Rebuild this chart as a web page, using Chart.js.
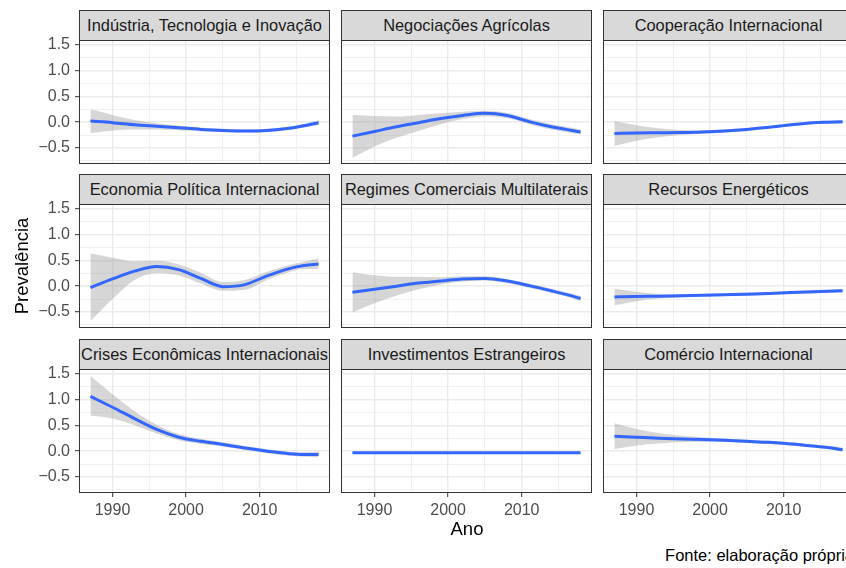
<!DOCTYPE html>
<html lang="pt">
<head>
<meta charset="UTF-8">
<title>Prevalência dos temas por ano</title>
<script src="https://cdn.jsdelivr.net/npm/chart.js@4.4.0/dist/chart.umd.min.js"></script>
<style>
  body { margin: 0; width: 846px; height: 568px; overflow: hidden; background: #fff; position: relative;
         font-family: "Liberation Sans", Arial, sans-serif; }
  .strip { position: absolute; box-sizing: border-box; background: #d9d9d9; border: 1px solid #333;
           color: #1a1a1a; font-size: 16.4px; text-align: center; white-space: nowrap; overflow: hidden; }
  .frame { position: absolute; box-sizing: border-box; border: 1px solid #333; pointer-events: none; }
  canvas { position: absolute; }
  .label { position: absolute; white-space: nowrap; color: #000; }
</style>
</head>
<body>
<script>
// anos em que as curvas suavizadas foram lidas
const years = [1987, 1990, 1993, 1996, 1999, 2002, 2005, 2008, 2011, 2014, 2016, 2018];

const topics = ['Indústria, Tecnologia e Inovação', 'Negociações Agrícolas', 'Cooperação Internacional',
  'Economia Política Internacional', 'Regimes Comerciais Multilaterais', 'Recursos Energéticos',
  'Crises Econômicas Internacionais', 'Investimentos Estrangeiros', 'Comércio Internacional'];

const industriaFit = [0.02, -0.01, -0.05, -0.08, -0.11, -0.14, -0.16, -0.17, -0.16, -0.12, -0.07, -0.01];
const industriaLo  = [-0.21, -0.16, -0.14, -0.14, -0.155, -0.175, -0.19, -0.2, -0.19, -0.15, -0.105, -0.055];
const industriaHi  = [0.25, 0.14, 0.04, -0.02, -0.065, -0.105, -0.13, -0.14, -0.13, -0.09, -0.035, 0.035];

const agricolaFit = [-0.27, -0.18, -0.09, -0.01, 0.07, 0.13, 0.17, 0.13, 0.01, -0.09, -0.14, -0.19];
const agricolaLo  = [-0.69, -0.47, -0.3, -0.17, -0.04, 0.06, 0.11, 0.08, -0.04, -0.14, -0.19, -0.24];
const agricolaHi  = [0.14, 0.12, 0.11, 0.14, 0.17, 0.2, 0.22, 0.18, 0.06, -0.04, -0.09, -0.14];

const cooperacaoFit = [-0.22, -0.21, -0.205, -0.2, -0.19, -0.17, -0.14, -0.1, -0.05, -0.01, 0.0, 0.01];
const cooperacaoLo  = [-0.46, -0.36, -0.29, -0.25, -0.225, -0.2, -0.165, -0.125, -0.075, -0.035, -0.025, -0.02];
const cooperacaoHi  = [0.02, -0.06, -0.12, -0.15, -0.155, -0.14, -0.115, -0.075, -0.025, 0.015, 0.025, 0.04];

const epiFit = [-0.03, 0.14, 0.29, 0.38, 0.32, 0.15, -0.01, 0.03, 0.2, 0.34, 0.4, 0.43];
const epiLo  = [-0.68, -0.25, 0.12, 0.25, 0.21, 0.05, -0.09, -0.07, 0.12, 0.27, 0.33, 0.33];
const epiHi  = [0.63, 0.55, 0.48, 0.49, 0.42, 0.26, 0.08, 0.12, 0.28, 0.41, 0.47, 0.54];

const regimesFit = [-0.12, -0.06, 0.0, 0.06, 0.1, 0.14, 0.15, 0.1, 0.01, -0.09, -0.16, -0.24];
const regimesLo  = [-0.51, -0.33, -0.18, -0.06, 0.03, 0.09, 0.11, 0.06, -0.03, -0.13, -0.2, -0.29];
const regimesHi  = [0.27, 0.21, 0.18, 0.18, 0.17, 0.19, 0.19, 0.14, 0.05, -0.05, -0.12, -0.19];

const energiaFit = [-0.21, -0.2, -0.195, -0.185, -0.175, -0.165, -0.155, -0.14, -0.125, -0.11, -0.1, -0.09];
const energiaLo  = [-0.37, -0.29, -0.24, -0.215, -0.2, -0.19, -0.18, -0.165, -0.15, -0.14, -0.13, -0.125];
const energiaHi  = [-0.05, -0.11, -0.15, -0.155, -0.15, -0.14, -0.13, -0.115, -0.1, -0.08, -0.07, -0.055];

const crisesFit = [1.06, 0.85, 0.63, 0.42, 0.27, 0.19, 0.13, 0.06, 0.0, -0.05, -0.065, -0.065];
const crisesLo  = [0.69, 0.63, 0.5, 0.34, 0.21, 0.14, 0.09, 0.02, -0.04, -0.09, -0.11, -0.12];
const crisesHi  = [1.46, 1.1, 0.77, 0.51, 0.33, 0.24, 0.17, 0.1, 0.04, -0.01, -0.02, -0.01];

const investFit = [-0.03, -0.03, -0.03, -0.03, -0.03, -0.03, -0.03, -0.03, -0.03, -0.03, -0.03, -0.03];
const investLo  = [-0.035, -0.035, -0.035, -0.035, -0.035, -0.035, -0.035, -0.035, -0.035, -0.035, -0.035, -0.035];
const investHi  = [-0.025, -0.025, -0.025, -0.025, -0.025, -0.025, -0.025, -0.025, -0.025, -0.025, -0.025, -0.025];

const comercioFit = [0.29, 0.27, 0.25, 0.235, 0.225, 0.21, 0.19, 0.17, 0.14, 0.1, 0.07, 0.03];
const comercioLo  = [0.04, 0.11, 0.15, 0.17, 0.18, 0.175, 0.16, 0.14, 0.11, 0.07, 0.04, -0.01];
const comercioHi  = [0.54, 0.43, 0.35, 0.3, 0.27, 0.245, 0.22, 0.2, 0.17, 0.13, 0.1, 0.07];

const xTicks = [1990, 1995, 2000, 2005, 2010, 2015];      // só as décadas têm rótulo
const yTicks = [-0.75, -0.5, -0.25, 0, 0.25, 0.5, 0.75, 1, 1.25, 1.5];

const series = [
  [industriaFit, industriaLo, industriaHi], [agricolaFit, agricolaLo, agricolaHi],
  [cooperacaoFit, cooperacaoLo, cooperacaoHi], [epiFit, epiLo, epiHi],
  [regimesFit, regimesLo, regimesHi], [energiaFit, energiaLo, energiaHi],
  [crisesFit, crisesLo, crisesHi], [investFit, investLo, investHi],
  [comercioFit, comercioLo, comercioHi]
];

// layout dos painéis (px)
const colLeft = [79, 341, 603];
const stripTop = [10, 174, 339];
const stripH = 30, panelW = 251, panelH = 124;
const padTop = 10;   // folga acima do painel para o rótulo "1.5" não ser cortado

Chart.defaults.font.family = '"Liberation Sans", Arial, sans-serif';
Chart.defaults.font.size = 16;
Chart.defaults.color = '#4d4d4d';

const pts = arr => arr.map((v, i) => ({ x: years[i], y: v }));
const isMajorX = v => v % 10 === 0;
const isMajorY = v => Math.abs(v * 2 - Math.round(v * 2)) < 1e-9;
const fmtY = v => (v < 0 ? '\u2212' : '') + Math.abs(v).toFixed(1);

// fixa o tamanho do eixo e zera o padding automático dos rótulos
const fixSize = (s, w, h) => {
  if (w !== null) s.width = w;
  if (h !== null) s.height = h;
  s.paddingTop = s.paddingBottom = s.paddingLeft = s.paddingRight = 0;
};

function makePanel(i) {
  const r = Math.floor(i / 3), c = i % 3;
  const showY = c === 0, showX = r === 2;
  const yw = showY ? colLeft[0] : 0;
  const xh = showX ? 40 : 0;
  const top = stripTop[r] + stripH;

  const strip = document.createElement('div');
  strip.className = 'strip';
  strip.style.cssText = `left:${colLeft[c]}px;top:${stripTop[r]}px;width:${panelW}px;height:${stripH + 1}px;line-height:${stripH - 2}px`;
  strip.textContent = topics[i];
  document.body.appendChild(strip);

  const canvas = document.createElement('canvas');
  canvas.width = panelW + yw;
  canvas.height = panelH + xh + padTop;
  canvas.style.left = (colLeft[c] - yw) + 'px';
  canvas.style.top = (top - padTop) + 'px';
  document.body.appendChild(canvas);

  const frame = document.createElement('div');
  frame.className = 'frame';
  frame.style.cssText = `left:${colLeft[c]}px;top:${top}px;width:${panelW}px;height:${panelH}px`;
  document.body.appendChild(frame);

  const [fit, lo, hi] = series[i];
  new Chart(canvas, {
    type: 'line',
    data: {
      datasets: [
        { data: pts(fit), borderColor: '#3366ff', borderWidth: 3, pointRadius: 0, fill: false,
          cubicInterpolationMode: 'monotone', order: 0 },
        { data: pts(hi), borderWidth: 0, pointRadius: 0, backgroundColor: 'rgba(153,153,153,0.4)',
          fill: '+1', cubicInterpolationMode: 'monotone', order: 1 },
        { data: pts(lo), borderWidth: 0, pointRadius: 0, fill: false,
          cubicInterpolationMode: 'monotone', order: 2 }
      ]
    },
    options: {
      responsive: false,
      animation: false,
      devicePixelRatio: 1,
      layout: { padding: { top: padTop, left: 0, right: 0, bottom: 0 }, autoPadding: false },
      plugins: { legend: { display: false }, tooltip: { enabled: false } },
      scales: {
        x: {
          type: 'linear', min: 1985.45, max: 2019.55,
          border: { display: false },
          afterBuildTicks: s => { s.ticks = xTicks.map(v => ({ value: v })); },
          afterFit: s => fixSize(s, null, xh),
          ticks: { display: showX, autoSkip: false, maxRotation: 0, padding: 4,
                   callback: v => isMajorX(v) ? String(v) : '' },
          grid: {
            color: '#ebebeb',
            lineWidth: ctx => isMajorX(ctx.tick.value) ? 1.4 : 0.7,
            drawTicks: showX, tickLength: 4, tickWidth: 1,
            tickColor: ctx => isMajorX(ctx.tick.value) ? '#333333' : 'rgba(0,0,0,0)'
          }
        },
        y: {
          type: 'linear', min: -0.81, max: 1.59,
          border: { display: false },
          afterBuildTicks: s => { s.ticks = yTicks.map(v => ({ value: v })); },
          afterFit: s => fixSize(s, yw, null),
          ticks: { display: showY, autoSkip: false, padding: 5,
                   callback: v => isMajorY(v) ? fmtY(v) : '' },
          grid: {
            color: '#ebebeb',
            lineWidth: ctx => isMajorY(ctx.tick.value) ? 1.4 : 0.7,
            drawTicks: showY, tickLength: 4, tickWidth: 1,
            tickColor: ctx => isMajorY(ctx.tick.value) ? '#333333' : 'rgba(0,0,0,0)'
          }
        }
      }
    }
  });
}

for (let i = 0; i < 9; i++) makePanel(i);

function addLabel(text, css) {
  const d = document.createElement('div');
  d.className = 'label';
  d.style.cssText = css;
  d.textContent = text;
  document.body.appendChild(d);
}
addLabel('Ano', 'left:437px;width:60px;text-align:center;top:518px;font-size:18.5px');
addLabel('Prevalência', 'left:-38px;top:255px;width:120px;text-align:center;font-size:18.5px;transform:rotate(-90deg)');
addLabel('Fonte: elaboração própria', 'right:-8px;top:546px;font-size:16.5px');
</script>
</body>
</html>
